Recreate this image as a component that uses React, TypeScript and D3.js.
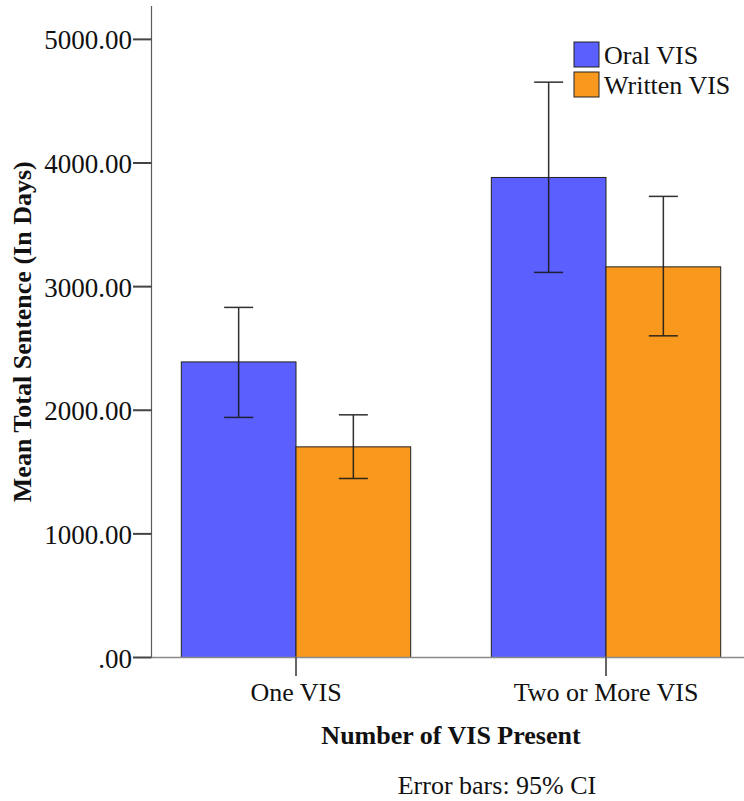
import React from "react";
import * as d3 from "d3";

const categories = ["One VIS", "Two or More VIS"];
const seriesNames = ["Oral VIS", "Written VIS"];
const oralMeans = [2391, 3883];
const oralLower = [1942, 3115];
const oralUpper = [2832, 4654];
const writtenMeans = [1704, 3160];
const writtenLower = [1448, 2602];
const writtenUpper = [1963, 3730];
const yTicks = [0, 1000, 2000, 3000, 4000, 5000];
const yMax = 5270;

const COLORS = ["#5A5FFE", "#F8981D"];
const FONT = "'Liberation Serif', 'Times New Roman', serif";

export default function App() {
  const W = 744;
  const H = 801;
  const axisX = 151.5;
  const baseY = 657.5;
  const topY = 6;

  const y = d3.scaleLinear().domain([0, yMax]).range([baseY, topY]);
  const x = d3
    .scaleBand<string>()
    .domain(categories)
    .range([141, 761])
    .paddingInner(0.26)
    .paddingOuter(0.13);
  const sub = d3
    .scaleBand<string>()
    .domain(seriesNames)
    .range([0, x.bandwidth()]);

  const series = [
    { name: seriesNames[0], means: oralMeans, lo: oralLower, hi: oralUpper },
    { name: seriesNames[1], means: writtenMeans, lo: writtenLower, hi: writtenUpper },
  ];

  const fmt = (v: number) => d3.format(".2f")(v).replace(/^0\./, ".");
  const capHalf = 14.5;

  return (
    <svg
      width={W}
      height={H}
      style={{ position: "absolute", left: 0, top: 0, background: "#fff" }}
      fontFamily={FONT}
    >
      {/* bars */}
      {series.map((s, si) =>
        categories.map((c, ci) => {
          const bx = (x(c) as number) + (sub(s.name) as number);
          const by = y(s.means[ci]);
          return (
            <rect
              key={`b-${si}-${ci}`}
              x={bx}
              y={by}
              width={sub.bandwidth()}
              height={baseY - by}
              fill={COLORS[si]}
              stroke="#222"
              strokeWidth={1}
            />
          );
        })
      )}
      {/* x baseline */}
      <line x1={axisX} x2={W} y1={baseY} y2={baseY} stroke="#8a8a8a" strokeWidth={1.5} />
      {/* error bars */}
      {series.map((s, si) =>
        categories.map((c, ci) => {
          const cx = (x(c) as number) + (sub(s.name) as number) + sub.bandwidth() / 2;
          const y1 = y(s.hi[ci]);
          const y2 = y(s.lo[ci]);
          return (
            <g key={`e-${si}-${ci}`} stroke="#1a1a1a" strokeWidth={1.5} opacity={0.9}>
              <line x1={cx} x2={cx} y1={y1} y2={y2} />
              <line x1={cx - capHalf} x2={cx + capHalf} y1={y1} y2={y1} />
              <line x1={cx - capHalf} x2={cx + capHalf} y1={y2} y2={y2} />
            </g>
          );
        })
      )}
      {/* y axis */}
      <line x1={axisX} x2={axisX} y1={topY} y2={baseY} stroke="#5a5a5a" strokeWidth={1.2} />
      {yTicks.map((t) => (
        <g key={`yt-${t}`}>
          <line x1={133} x2={axisX} y1={y(t)} y2={y(t)} stroke="#444" strokeWidth={2} />
          <text x={132} y={y(t) + 10} textAnchor="end" fontSize={27} fill="#111">
            {fmt(t)}
          </text>
        </g>
      ))}
      {/* x ticks & labels */}
      {categories.map((c) => {
        const cx = (x(c) as number) + x.bandwidth() / 2;
        return (
          <g key={`xt-${c}`}>
            <line x1={cx} x2={cx} y1={baseY} y2={676} stroke="#333" strokeWidth={1.5} />
            <text x={cx} y={701} textAnchor="middle" fontSize={26} fill="#111">
              {c}
            </text>
          </g>
        );
      })}
      {/* axis titles */}
      <text x={451} y={744} textAnchor="middle" fontSize={26} fontWeight="bold" fill="#111">
        Number of VIS Present
      </text>
      <text
        transform={`translate(31, ${(topY + baseY) / 2}) rotate(-90)`}
        textAnchor="middle"
        fontSize={26}
        fontWeight="bold"
        fill="#111"
      >
        Mean Total Sentence (In Days)
      </text>
      <text x={497} y={794} textAnchor="middle" fontSize={26} fill="#111">
        Error bars: 95% CI
      </text>
      {/* legend */}
      {seriesNames.map((n, i) => (
        <g key={`lg-${n}`} transform={`translate(574, ${42 + i * 30})`}>
          <rect x={0} y={0} width={25} height={25} fill={COLORS[i]} stroke="#222" strokeWidth={1} />
          <text x={30} y={22} fontSize={26} fill="#111">
            {n}
          </text>
        </g>
      ))}
    </svg>
  );
}
